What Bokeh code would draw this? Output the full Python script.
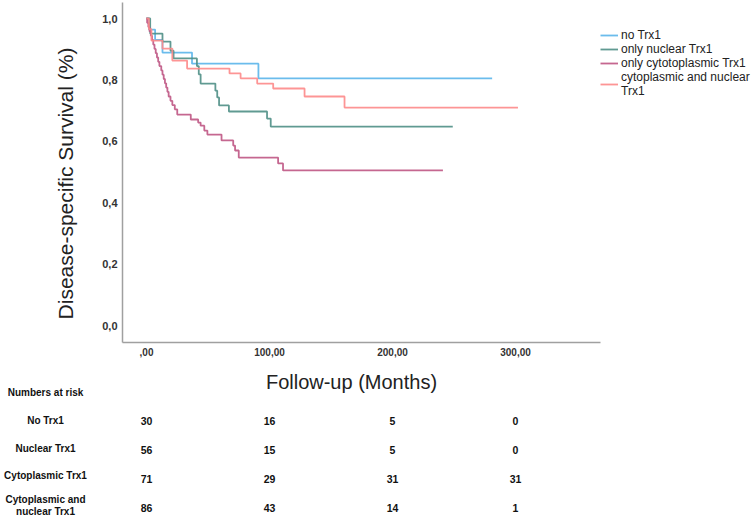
import math
from bokeh.plotting import figure
from bokeh.models import (Range1d, FixedTicker, CustomJSTickFormatter,
                          LinearAxis, Legend, LegendItem)
from bokeh.core.properties import value
from bokeh.embed import file_html
from bokeh.resources import INLINE

# ---------------- data ----------------
group_names = ["no Trx1", "only nuclear Trx1", "only cytotoplasmic Trx1",
               "cytoplasmic and nuclear\nTrx1"]

no_trx_t = [0, 2, 7, 13, 37, 91, 281]
no_trx_s = [1.0, 0.964, 0.93, 0.889, 0.853, 0.805, 0.805]

nuc_t = [0, 3, 13, 19.5, 22, 41, 42.5, 44, 56, 57.5, 59, 67, 98, 101, 249]
nuc_s = [1.0, 0.951, 0.925, 0.895, 0.87, 0.845, 0.818, 0.788, 0.765, 0.743,
         0.717, 0.697, 0.674, 0.648, 0.648]

cyto_t = [0, 0.5, 1.5, 2.5, 3.5, 4.5, 5.5, 6.5, 7.5, 8.5, 9.5, 10.5, 12, 13,
          14, 15, 16, 17, 18, 19.5, 21, 23, 25, 36, 42, 44, 47, 49.5, 61,
          70.5, 72, 75, 107, 111, 241]
cyto_s = [1.0, 0.986, 0.972, 0.958, 0.944, 0.930, 0.915, 0.901, 0.887, 0.873,
          0.859, 0.845, 0.831, 0.817, 0.803, 0.789, 0.775, 0.761, 0.746,
          0.732, 0.718, 0.704, 0.687, 0.671, 0.661, 0.651, 0.635, 0.622,
          0.603, 0.586, 0.570, 0.547, 0.528, 0.505, 0.505]

both_t = [0, 2, 4, 13, 21, 33, 67.5, 76.5, 90, 103, 128.5, 161, 302]
both_s = [1.0, 0.965, 0.928, 0.902, 0.863, 0.837, 0.821, 0.805, 0.788, 0.772,
          0.746, 0.71, 0.71]

x_ticks = [0, 100, 200, 300]
y_ticks = [0.0, 0.2, 0.4, 0.6, 0.8, 1.0]

x_title = "Follow-up (Months)"
y_title = "Disease-specific Survival (%)"

risk_title = "Numbers at risk"
risk_times = [0, 100, 200, 300]
risk_rows = ["No Trx1", "Nuclear Trx1", "Cytoplasmic Trx1",
             "Cytoplasmic and\nnuclear Trx1"]
risk_no = [30, 16, 5, 0]
risk_nuc = [56, 15, 5, 0]
risk_cyto = [71, 29, 31, 31]
risk_both = [86, 43, 14, 1]

# ---------------- layout constants (pixels) ----------------
W, H = 752, 518
AX_L, AX_R, AX_T, AX_B = 122, 600, 2, 342   # axis lines
X0_PX, PX_PER_MONTH = 146, 1.23             # t = 0 position, x scale
S0_PX, PX_PER_UNIT = 325, 307               # S = 0 position, y scale


def tx(px):
    return (px - X0_PX) / PX_PER_MONTH


def sy(py):
    return (S0_PX - py) / PX_PER_UNIT


colors = ["#5bb5ea", "#4f8f86", "#bf5784", "#fd8a8a"]
FONT = "Liberation Sans"

p = figure(width=W, height=H, output_backend="svg", toolbar_location=None,
           x_range=Range1d(tx(0), tx(W)), y_range=Range1d(sy(H), sy(0)),
           min_border_left=0, min_border_right=0, min_border_top=0,
           min_border_bottom=0, x_axis_location=None, y_axis_location=None)
p.outline_line_color = None
p.grid.visible = False
p.background_fill_color = "white"
p.border_fill_color = "white"

series = [(no_trx_t, no_trx_s), (nuc_t, nuc_s), (cyto_t, cyto_s), (both_t, both_s)]
renderers = []
for (t, s), c in zip(series, colors):
    r = p.step(t, s, mode="after", line_color=c, line_width=1.8, line_alpha=0.9)
    renderers.append(r)


def style_axis(ax, size):
    ax.axis_line_color = "#a0a0a0"
    ax.axis_line_width = 1.5
    ax.major_tick_line_color = None
    ax.minor_tick_line_color = None
    ax.major_tick_out = 0
    ax.minor_tick_out = 0
    ax.major_label_standoff = 5
    ax.major_label_text_font = FONT
    ax.major_label_text_font_size = size
    ax.major_label_text_font_style = "bold"
    ax.major_label_text_color = "#333333"


xa = LinearAxis(fixed_location=sy(AX_B), bounds=(tx(AX_L), tx(AX_R)),
                ticker=FixedTicker(ticks=x_ticks),
                formatter=CustomJSTickFormatter(
                    code="return tick === 0 ? ',00' : tick.toFixed(2).replace('.', ',')"))
style_axis(xa, "10px")
p.add_layout(xa, "below")

ya = LinearAxis(fixed_location=tx(AX_L), bounds=(sy(AX_B), sy(AX_T)),
                ticker=FixedTicker(ticks=y_ticks),
                formatter=CustomJSTickFormatter(
                    code="return tick.toFixed(1).replace('.', ',')"))
style_axis(ya, "11px")
p.add_layout(ya, "left")

# axis titles
p.text(x=[tx(65)], y=[sy(183)], text=[y_title], angle=math.pi / 2,
       text_align="center", text_baseline="middle", text_font=value(FONT),
       text_font_size="21px", text_color="#222222")
p.text(x=[tx(351)], y=[sy(381)], text=[x_title], text_align="center",
       text_baseline="middle", text_font=value(FONT), text_font_size="20px",
       text_color="#222222")

# legend
items = [LegendItem(label=n, renderers=[r]) for n, r in zip(group_names, renderers)]
legend = Legend(items=items, location=(AX_R, H - 98), padding=0, margin=0,
                spacing=0, glyph_width=18, glyph_height=12, label_height=12,
                label_standoff=3, border_line_color=None,
                background_fill_alpha=0.0, label_text_font=FONT,
                label_text_font_size="12px", label_text_color="#222222",
                label_text_line_height=0.8)
p.add_layout(legend)

# numbers-at-risk table
label_x = tx(45)
row_label_y = [420, 448, 475, 505]
row_num_y = [420, 449, 478, 507]

lab_x = [label_x] * (1 + len(risk_rows))
lab_y = [sy(392)] + [sy(v) for v in row_label_y]
lab_text = [risk_title] + risk_rows
p.text(x=lab_x, y=lab_y, text=lab_text, text_align="center",
       text_baseline="middle", text_font=value(FONT), text_font_size="10px",
       text_font_style="bold", text_color="#111111", text_line_height=1.15)

num_x, num_y, num_text = [], [], []
for vals, ny in zip([risk_no, risk_nuc, risk_cyto, risk_both], row_num_y):
    for tt, v in zip(risk_times, vals):
        num_x.append(tt)
        num_y.append(sy(ny))
        num_text.append(str(v))
p.text(x=num_x, y=num_y, text=num_text, text_align="center",
       text_baseline="middle", text_font=value(FONT), text_font_size="10.5px",
       text_font_style="bold", text_color="#111111")

open("out.html", "w").write(file_html(p, INLINE))
